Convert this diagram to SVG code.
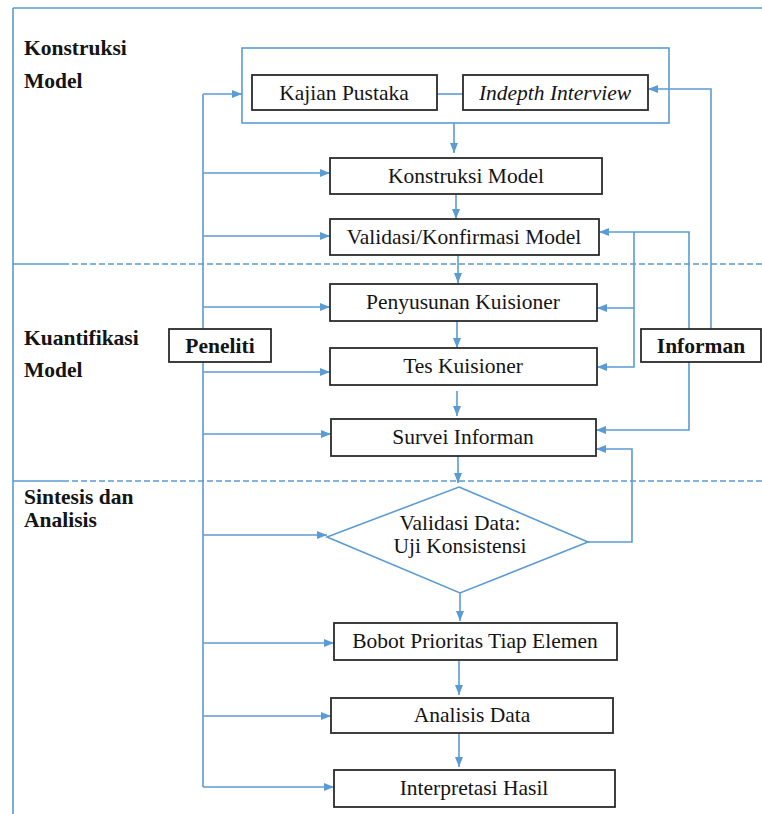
<svg xmlns="http://www.w3.org/2000/svg" width="762" height="814" viewBox="0 0 762 814">
<defs>
<marker id="ah" markerUnits="userSpaceOnUse" markerWidth="11" markerHeight="9" refX="10" refY="4" orient="auto">
<path d="M0,0 L10,4 L0,8 z" fill="#5b9bd5"/>
</marker>
<style>
.ln{fill:none;stroke:#5b9bd5;stroke-width:1.6}
.ar{fill:none;stroke:#5b9bd5;stroke-width:1.6;marker-end:url(#ah)}
.dash{fill:none;stroke:#5b9bd5;stroke-width:1.3;stroke-dasharray:6 3}
.box{fill:#fff;stroke:#2b2b2b;stroke-width:1.8}
.t{font-family:"Liberation Serif","Times New Roman",serif;font-size:21.5px;fill:#141414;text-anchor:middle}
.b{font-weight:bold}
.lab{font-family:"Liberation Serif","Times New Roman",serif;font-size:21.5px;font-weight:bold;fill:#141414}
</style>
</defs>
<rect width="762" height="814" fill="#fff"/>

<g id="frame">
<path class="ln" d="M13,8 H762 M13,8 V814"/>
<path class="ln" d="M13,264 H63 M13,481 H63"/>
<path class="dash" d="M63,264 H762 M63,481 H762"/>
<text class="lab" x="24" y="55">Konstruksi</text>
<text class="lab" x="24" y="88">Model</text>
<text class="lab" x="24" y="345">Kuantifikasi</text>
<text class="lab" x="24" y="377">Model</text>
<text class="lab" x="24" y="504" font-size="20.5">Sintesis dan</text>
<text class="lab" x="24" y="527" font-size="20.5">Analisis</text>
</g>

<g id="connectors">
<path class="ln" d="M203,94 V787"/>
<path class="ar" d="M203,94 H242"/>
<path class="ar" d="M203,173 H330"/>
<path class="ar" d="M203,236 H330"/>
<path class="ar" d="M203,307 H330"/>
<path class="ar" d="M203,372 H330"/>
<path class="ar" d="M203,434 H331"/>
<path class="ar" d="M203,535 H327"/>
<path class="ar" d="M203,643 H334"/>
<path class="ar" d="M203,716 H331"/>
<path class="ar" d="M203,787 H334"/>
<path class="ar" d="M711,329 V89 H648"/>
<path class="ar" d="M689,329 V232 H599"/>
<path class="ar" d="M634,232 V367 H597"/>
<path class="ar" d="M634,308 H597"/>
<path class="ar" d="M689,362 V430 H596"/>
<path class="ar" d="M588,542 H632 V449 H596"/>
<path class="ln" d="M437,94 H463"/>
<path class="ar" d="M454,123 V153"/>
<path class="ar" d="M456,194 V219"/>
<path class="ar" d="M458,255 V283"/>
<path class="ar" d="M457,321 V348"/>
<path class="ar" d="M457,391 V416"/>
<path class="ar" d="M458,456 V483"/>
<path class="ar" d="M460,593 V621"/>
<path class="ar" d="M459,661 V695"/>
<path class="ar" d="M459,733 V767"/>
</g>

<g id="group-kajian">
<rect class="ln" x="242" y="48" width="427" height="75"/>
</g>
<g id="kajian-pustaka">
<rect class="box" x="252" y="75" width="185" height="35"/>
<text class="t" x="344" y="100">Kajian Pustaka</text>
</g>
<g id="indepth-interview">
<rect class="box" x="463" y="75" width="185" height="35"/>
<text class="t" x="555" y="100" font-style="italic">Indepth Interview</text>
</g>
<g id="konstruksi-model">
<rect class="box" x="330" y="158" width="272" height="36"/>
<text class="t" x="466" y="183">Konstruksi Model</text>
</g>
<g id="validasi-model">
<rect class="box" x="330" y="219" width="269" height="36"/>
<text class="t" x="464" y="244">Validasi/Konfirmasi Model</text>
</g>
<g id="penyusunan-kuisioner">
<rect class="box" x="330" y="284" width="267" height="37"/>
<text class="t" x="463" y="309">Penyusunan Kuisioner</text>
</g>
<g id="tes-kuisioner">
<rect class="box" x="330" y="348" width="267" height="37"/>
<text class="t" x="463" y="373">Tes Kuisioner</text>
</g>
<g id="survei-informan">
<rect class="box" x="331" y="419" width="265" height="37"/>
<text class="t" x="463" y="444">Survei Informan</text>
</g>
<g id="validasi-data">
<polygon points="459,487 588,542 460,593 327,537" fill="#fff" stroke="#5b9bd5" stroke-width="1.6"/>
<text class="t" x="460" y="530">Validasi Data:</text>
<text class="t" x="460" y="553">Uji Konsistensi</text>
</g>
<g id="bobot-prioritas">
<rect class="box" x="334" y="623" width="283" height="37"/>
<text class="t" x="475" y="648">Bobot Prioritas Tiap Elemen</text>
</g>
<g id="analisis-data">
<rect class="box" x="331" y="698" width="282" height="35"/>
<text class="t" x="472" y="722">Analisis Data</text>
</g>
<g id="interpretasi-hasil">
<rect class="box" x="334" y="770" width="281" height="37"/>
<text class="t" x="474" y="795">Interpretasi Hasil</text>
</g>
<g id="peneliti">
<rect class="box" x="169" y="329" width="102" height="33"/>
<text class="t b" x="220" y="353">Peneliti</text>
</g>
<g id="informan">
<rect class="box" x="641" y="329" width="120" height="33"/>
<text class="t b" x="701" y="353">Informan</text>
</g>
</svg>
